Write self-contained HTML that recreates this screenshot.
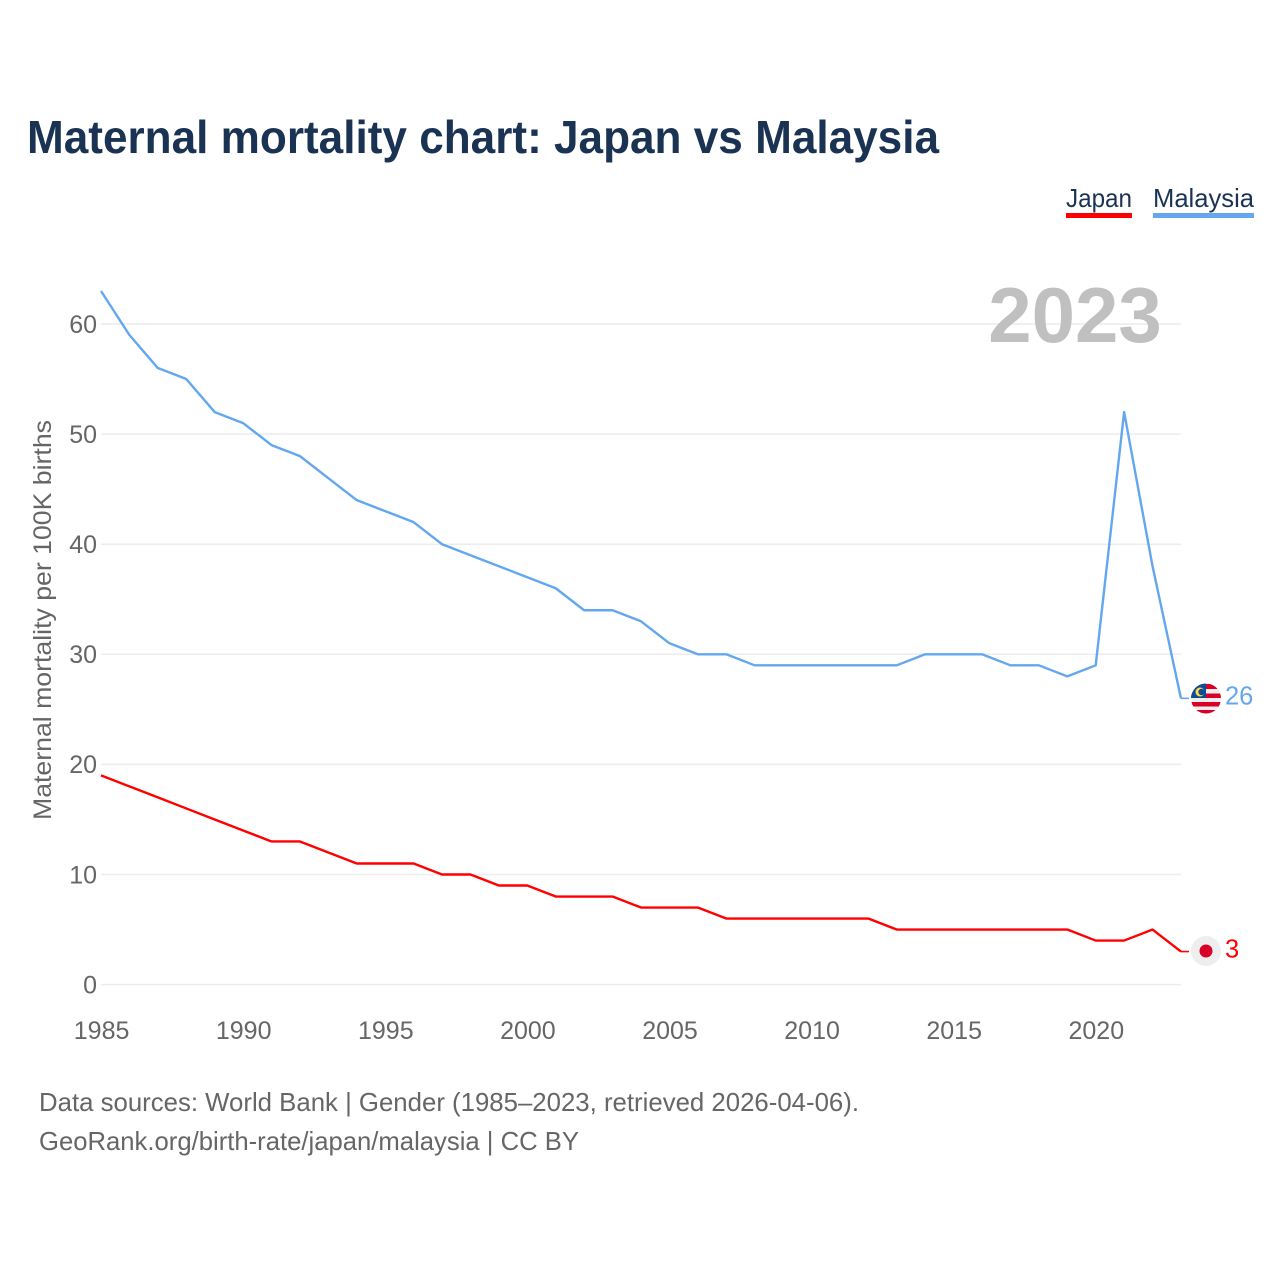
<!DOCTYPE html>
<html>
<head>
<meta charset="utf-8">
<title>Maternal mortality chart: Japan vs Malaysia</title>
<style>
html,body{margin:0;padding:0;background:#fff;width:1280px;height:1280px;overflow:hidden}
svg{display:block}
text{font-family:"Liberation Sans",sans-serif}
</style>
</head>
<body>
<svg id="chart" width="1280" height="1280" viewBox="0 0 1280 1280" xmlns="http://www.w3.org/2000/svg">
<defs>
<clipPath id="flag-clip"><circle cx="1206" cy="698.5" r="15"/></clipPath>
</defs>
<rect x="0" y="0" width="1280" height="1280" fill="#fff"/>
<text x="27" y="153" font-size="46" font-weight="700" fill="#1a3353" textLength="912" lengthAdjust="spacingAndGlyphs">Maternal mortality chart: Japan vs Malaysia</text>

<g>
<text x="1066" y="207" font-size="26" fill="#1a3353" textLength="66" lengthAdjust="spacingAndGlyphs">Japan</text>
<rect x="1066" y="213" width="66" height="5" fill="#ff0000"/>
</g>
<g>
<text x="1153" y="207" font-size="26" fill="#1a3353" textLength="101" lengthAdjust="spacingAndGlyphs">Malaysia</text>
<rect x="1153" y="213" width="101" height="5" fill="#63a7ee"/>
</g>

<g id="grid"></g>
<g id="yticks"></g>
<g id="xticks"></g>

<text x="1075" y="342" font-size="78" font-weight="700" fill="#c0c0c0" text-anchor="middle">2023</text>

<text transform="translate(51,620) rotate(-90)" font-size="25" fill="#666" text-anchor="middle" textLength="400" lengthAdjust="spacingAndGlyphs">Maternal mortality per 100K births</text>

<g id="series"></g>

<g clip-path="url(#flag-clip)">
<rect x="1191" y="683" width="30" height="31" fill="#eeeeee"/>
<rect x="1191" y="684" width="30" height="5" fill="#d80027"/>
<rect x="1191" y="693.5" width="30" height="4.5" fill="#d80027"/>
<rect x="1191" y="702" width="30" height="4.5" fill="#d80027"/>
<rect x="1191" y="710" width="30" height="4" fill="#d80027"/>
<rect x="1191" y="683" width="15" height="15" fill="#0f4c96"/>
<circle cx="1200" cy="692" r="4.5" fill="#ffda44"/>
<circle cx="1201.5" cy="692" r="3.2" fill="#0f4c96"/>
</g>
<g>
<circle cx="1206" cy="951" r="15" fill="#eeeeee"/>
<circle cx="1206" cy="951" r="6.5" fill="#d80027"/>
</g>
<g id="endlabels"></g>

<text x="39" y="1111" font-size="26" fill="#666" textLength="820" lengthAdjust="spacingAndGlyphs">Data sources: World Bank | Gender (1985–2023, retrieved 2026-04-06).</text>
<text x="39" y="1150" font-size="26" fill="#666" textLength="540" lengthAdjust="spacingAndGlyphs">GeoRank.org/birth-rate/japan/malaysia | CC BY</text>
</svg>
<script>
const years = [1985,1986,1987,1988,1989,1990,1991,1992,1993,1994,1995,1996,1997,1998,1999,2000,2001,2002,2003,2004,2005,2006,2007,2008,2009,2010,2011,2012,2013,2014,2015,2016,2017,2018,2019,2020,2021,2022,2023];
const malaysiaValues = [63,59,56,55,52,51,49,48,46,44,43,42,40,39,38,37,36,34,34,33,31,30,30,29,29,29,29,29,29,30,30,30,29,29,28,29,52,38,26];
const japanValues = [19,18,17,16,15,14,13,13,12,11,11,11,10,10,9,9,8,8,8,7,7,7,6,6,6,6,6,6,5,5,5,5,5,5,5,4,4,5,3];
const yTickValues = [0,10,20,30,40,50,60];
const xTickValues = [1985,1990,1995,2000,2005,2010,2015,2020];

const NS = 'http://www.w3.org/2000/svg';
function xScale(year){ return 101 + (year - 1985) * 28.42; }
function yScale(value){ return 984.6 - value * 11.01; }
function make(parentId, tag, attrs, txt){
  const el = document.createElementNS(NS, tag);
  for (const k in attrs) el.setAttribute(k, attrs[k]);
  if (txt !== undefined) el.textContent = txt;
  document.getElementById(parentId).appendChild(el);
  return el;
}

yTickValues.forEach(function(v){
  const line = make('grid', 'line', {x1:101, x2:1181, y1:yScale(v), y2:yScale(v), stroke:'#ececec', 'stroke-width':1.5});
  
  
  const label = make('yticks', 'text', {x:97, y:yScale(v) + 8.8, 'font-size':25, fill:'#666', 'text-anchor':'end'}, String(v));
  
  
});

xTickValues.forEach(function(y){
  const label = make('xticks', 'text', {x:xScale(y) + 0.6, y:1039, 'font-size':25, fill:'#666', 'text-anchor':'middle'}, String(y));
  
  
});

function drawSeries(values, color, lineName, connectorName, labelName){
  const pts = values.map(function(v, i){ return xScale(years[i]).toFixed(2) + ',' + yScale(v).toFixed(2); }).join(' ');
  const line = make('series', 'polyline', {points:pts, fill:'none', stroke:color, 'stroke-width':2.4, 'stroke-linejoin':'round'});
  
  
  const last = values[values.length - 1];
  const lastX = xScale(years[years.length - 1]);
  const connector = make('series', 'line', {x1:lastX, x2:lastX + 8, y1:yScale(last), y2:yScale(last), stroke:color, 'stroke-width':1.6});
  
  
  const label = make('endlabels', 'text', {x:1225, y:yScale(last) + 6, 'font-size':25.5, fill:color}, String(last));
  
  
}
drawSeries(malaysiaValues, '#63a7ee', 'line-malaysia', 'connector-malaysia', 'end-value-malaysia');
drawSeries(japanValues, '#ff0000', 'line-japan', 'connector-japan', 'end-value-japan');
</script>
</body>
</html>
